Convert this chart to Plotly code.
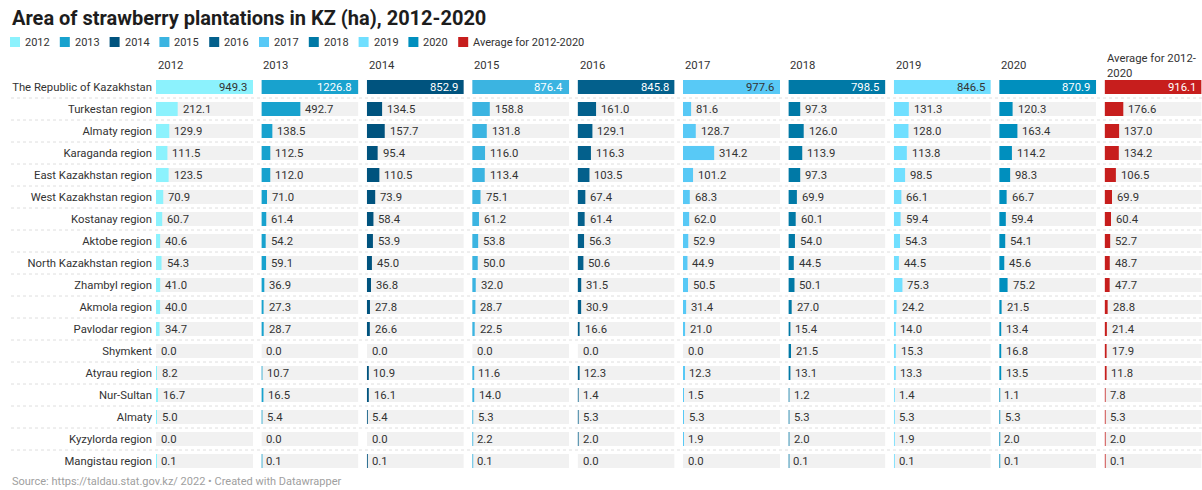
import plotly.graph_objects as go

regions = ["The Republic of Kazakhstan", "Turkestan region", "Almaty region", "Karaganda region",
           "East Kazakhstan region", "West Kazakhstan region", "Kostanay region", "Aktobe region",
           "North Kazakhstan region", "Zhambyl region", "Akmola region", "Pavlodar region",
           "Shymkent", "Atyrau region", "Nur-Sultan", "Almaty", "Kyzylorda region", "Mangistau region"]

columns = ["2012", "2013", "2014", "2015", "2016", "2017", "2018", "2019", "2020", "Average for 2012-2020"]

v2012 = [949.3, 212.1, 129.9, 111.5, 123.5, 70.9, 60.7, 40.6, 54.3, 41.0, 40.0, 34.7, 0.0, 8.2, 16.7, 5.0, 0.0, 0.1]
v2013 = [1226.8, 492.7, 138.5, 112.5, 112.0, 71.0, 61.4, 54.2, 59.1, 36.9, 27.3, 28.7, 0.0, 10.7, 16.5, 5.4, 0.0, 0.1]
v2014 = [852.9, 134.5, 157.7, 95.4, 110.5, 73.9, 58.4, 53.9, 45.0, 36.8, 27.8, 26.6, 0.0, 10.9, 16.1, 5.4, 0.0, 0.1]
v2015 = [876.4, 158.8, 131.8, 116.0, 113.4, 75.1, 61.2, 53.8, 50.0, 32.0, 28.7, 22.5, 0.0, 11.6, 14.0, 5.3, 2.2, 0.1]
v2016 = [845.8, 161.0, 129.1, 116.3, 103.5, 67.4, 61.4, 56.3, 50.6, 31.5, 30.9, 16.6, 0.0, 12.3, 1.4, 5.3, 2.0, 0.0]
v2017 = [977.6, 81.6, 128.7, 314.2, 101.2, 68.3, 62.0, 52.9, 44.9, 50.5, 31.4, 21.0, 0.0, 12.3, 1.5, 5.3, 1.9, 0.0]
v2018 = [798.5, 97.3, 126.0, 113.9, 97.3, 69.9, 60.1, 54.0, 44.5, 50.1, 27.0, 15.4, 21.5, 13.1, 1.2, 5.3, 2.0, 0.1]
v2019 = [846.5, 131.3, 128.0, 113.8, 98.5, 66.1, 59.4, 54.3, 44.5, 75.3, 24.2, 14.0, 15.3, 13.3, 1.4, 5.3, 1.9, 0.1]
v2020 = [870.9, 120.3, 163.4, 114.2, 98.3, 66.7, 59.4, 54.1, 45.6, 75.2, 21.5, 13.4, 16.8, 13.5, 1.1, 5.3, 2.0, 0.1]
vavg = [916.1, 176.6, 137.0, 134.2, 106.5, 69.9, 60.4, 52.7, 48.7, 47.7, 28.8, 21.4, 17.9, 11.8, 7.8, 5.3, 2.0, 0.1]

series = [v2012, v2013, v2014, v2015, v2016, v2017, v2018, v2019, v2020, vavg]

colors = ["#8cf2fd", "#18a2ce", "#00537e", "#3bb4e1", "#03608c", "#58c9f6", "#0079a6", "#70dfff", "#008fbe", "#c71e1d"]
top_text_colors = ["#333333", "#ffffff", "#ffffff", "#ffffff", "#ffffff", "#333333", "#ffffff", "#333333", "#ffffff", "#ffffff"]

W, H = 1202, 490
M_T, M_B = 76, 18
PH = H - M_T - M_B
FONT = "Roboto"
TXT = "#333333"
FS = 11.3

col_start = [156 + i * 105.4 for i in range(10)]
col_w = 97


def py(p):
    return (H - M_B - p) / PH


fig = go.Figure()
layout_axes = {}
annotations = []
for i, (name, vals) in enumerate(zip(columns, series)):
    ax = "" if i == 0 else str(i + 1)
    xref = "x" + ax
    vmax = max(vals)
    fig.add_trace(go.Bar(orientation="h", y=regions, x=[vmax] * len(regions), xaxis=xref, yaxis="y",
                         marker=dict(color="#f1f1f1", line=dict(width=0)), width=0.64,
                         hoverinfo="skip", showlegend=False))
    fig.add_trace(go.Bar(orientation="h", y=regions, x=vals, xaxis=xref, yaxis="y", name=name,
                         marker=dict(color=colors[i], line=dict(width=0)), width=0.64, showlegend=False))
    for r, v in enumerate(vals):
        if r == 0:
            annotations.append(dict(xref=xref, yref="y", x=v, y=regions[r], xanchor="right", yanchor="middle",
                                    xshift=-4, text=f"{v:.1f}", showarrow=False,
                                    font=dict(family=FONT, size=FS, color=top_text_colors[i])))
        else:
            annotations.append(dict(xref=xref, yref="y", x=v, y=regions[r], xanchor="left", yanchor="middle",
                                    xshift=3, text=f"{v:.1f}", showarrow=False,
                                    font=dict(family=FONT, size=FS, color=TXT)))
    layout_axes["xaxis" + ax] = dict(domain=[col_start[i] / W, min(1, (col_start[i] + col_w) / W)],
                                     range=[0, vmax], showgrid=False, zeroline=False,
                                     showticklabels=False, showline=False, anchor="y", fixedrange=True)

fig.update_layout(**layout_axes)
fig.update_layout(
    yaxis=dict(type="category", categoryarray=regions, range=[len(regions) - 0.5, -0.5],
               autorange=False, showgrid=False, fixedrange=True,
               zeroline=False, ticks="", tickfont=dict(family=FONT, size=FS, color=TXT),
               anchor="x", ticklabelstandoff=3),
    barmode="overlay",
    width=W, height=H,
    margin=dict(l=0, r=0, t=M_T, b=M_B),
    paper_bgcolor="white", plot_bgcolor="white",
    font=dict(family=FONT, color=TXT),
    showlegend=False,
)

shapes = []
for k in range(len(regions) - 1):
    shapes.append(dict(type="line", xref="paper", yref="y", x0=11 / W, x1=1, y0=k + 0.5, y1=k + 0.5,
                       line=dict(color="#dedede", width=1, dash="dot")))

for i, name in enumerate(columns):
    label = name if i < 9 else "Average for 2012-<br>2020"
    annotations.append(dict(xref="paper", yref="paper", x=col_start[i] / W, y=py(66), xanchor="left",
                            yanchor="middle", text=label, showarrow=False, align="left",
                            font=dict(family=FONT, size=FS, color=TXT)))

annotations.append(dict(xref="paper", yref="paper", x=10 / W, y=py(18), xanchor="left", yanchor="middle",
                        text="<b>Area of strawberry plantations in KZ (ha), 2012-2020</b>", showarrow=False,
                        font=dict(family=FONT, size=20, color="#1d1d1d")))

for i, name in enumerate(columns):
    x0 = 10 + i * 49.8
    shapes.append(dict(type="rect", xref="paper", yref="paper", x0=x0 / W, x1=(x0 + 10) / W,
                       y0=py(47), y1=py(37), fillcolor=colors[i], line=dict(width=0)))
    annotations.append(dict(xref="paper", yref="paper", x=(x0 + 13) / W, y=py(42), xanchor="left",
                            yanchor="middle", text=name, showarrow=False,
                            font=dict(family=FONT, size=11, color=TXT)))

annotations.append(dict(xref="paper", yref="paper", x=10 / W, y=py(481), xanchor="left", yanchor="middle",
                        text="Source: https://taldau.stat.gov.kz/ 2022 • Created with Datawrapper",
                        showarrow=False, font=dict(family=FONT, size=11, color="#a0a0a0")))

fig.update_layout(shapes=shapes, annotations=annotations)
fig.write_html("out.html", config={"displayModeBar": False},
               post_script="document.body.style.margin='0';document.body.style.overflow='hidden';")
